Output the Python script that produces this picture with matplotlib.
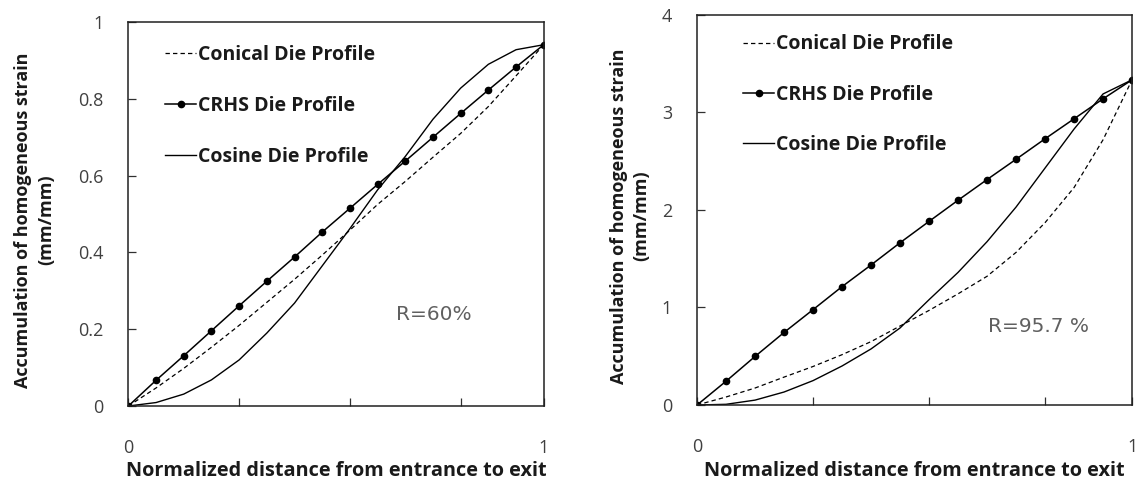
import numpy as np
import matplotlib
matplotlib.use("Agg")
import matplotlib.pyplot as plt

plt.rcParams["font.family"] = ["Open Sans", "DejaVu Sans"]

# normalized distance, 16 nodes (0 .. 1)
x = np.arange(16) / 15

# R = 60 %
conical_60 = [0, 0.047, 0.098, 0.153, 0.210, 0.270, 0.330, 0.393, 0.458, 0.525,
              0.585, 0.648, 0.710, 0.780, 0.860, 0.941]
crhs_60 = [0, 0.067, 0.131, 0.196, 0.261, 0.325, 0.388, 0.453, 0.515, 0.577,
           0.638, 0.700, 0.762, 0.823, 0.883, 0.941]
cosine_60 = [0, 0.009, 0.031, 0.068, 0.120, 0.190, 0.268, 0.365, 0.462, 0.563,
             0.650, 0.747, 0.828, 0.890, 0.928, 0.941]

# R = 95.7 %
conical_957 = [0, 0.082, 0.174, 0.286, 0.395, 0.516, 0.650, 0.810, 0.970, 1.140,
               1.320, 1.565, 1.870, 2.230, 2.720, 3.335]
crhs_957 = [0, 0.244, 0.498, 0.744, 0.978, 1.214, 1.436, 1.664, 1.883, 2.100,
            2.312, 2.520, 2.730, 2.935, 3.140, 3.335]
cosine_957 = [0, 0.007, 0.050, 0.133, 0.250, 0.400, 0.575, 0.790, 1.080, 1.360,
              1.675, 2.030, 2.430, 2.830, 3.190, 3.335]

labels = ["Conical Die Profile", "CRHS Die Profile", "Cosine Die Profile"]
xticks = [0, 4 / 15, 8 / 15, 12 / 15, 1]
xticklabels = ["0", "", "", "", "1"]

tick_col = "#404040"
text_col = "#1a1a1a"

fig = plt.figure(figsize=(11.39, 4.86), dpi=100)
ax1 = fig.add_axes([0.1127, 0.1646, 0.3647, 0.790])
ax2 = fig.add_axes([0.612, 0.1667, 0.3819, 0.8025])


def draw(ax, conical, crhs, cosine, ymax, yticks, ytl, rtext, rpos, lab_x, leg_anchor, leg_space):
    ax.plot(x, conical, color="black", lw=0.9, ls=(0, (3.5, 2.5)), label=labels[0])
    ax.plot(x, crhs, color="black", lw=1.1, marker="o", ms=4.5, label=labels[1])
    ax.plot(x, cosine, color="black", lw=1.0, label=labels[2])
    ax.set_xlim(0, 1)
    ax.set_ylim(0, ymax)
    ax.set_xticks(xticks)
    ax.set_xticklabels(xticklabels)
    ax.set_yticks(yticks)
    ax.set_yticklabels(ytl)
    ax.tick_params(direction="in", length=6, width=0.9, color="#303030",
                   labelsize=13, labelcolor=tick_col)
    ax.tick_params(axis="y", pad=18)
    ax.tick_params(axis="x", pad=24)
    for s in ax.spines.values():
        s.set_linewidth(1.1)
        s.set_color("#202020")
    ax.set_xlabel("Normalized distance from entrance to exit", fontsize=14.3,
                  fontweight="bold", color=text_col)
    ax.xaxis.set_label_coords(0.5, -0.143)
    ax.set_ylabel("Accumulation of homogeneous strain\n(mm/mm)", fontsize=13,
                  fontweight="bold", color=text_col, linespacing=1.35)
    ax.yaxis.set_label_coords(lab_x, 0.485)
    ax.text(rpos[0], rpos[1], rtext, fontsize=14.5, color="#606060",
            family=["DejaVu Sans"], ha="center", va="center")
    ax.legend(loc="upper left", bbox_to_anchor=leg_anchor, frameon=False,
              handlelength=1.6, handletextpad=0.1,
              labelspacing=leg_space, borderpad=0, borderaxespad=0,
              labelcolor=text_col, prop={"weight": "bold", "size": 14})


draw(ax1, conical_60, crhs_60, cosine_60, 1.0,
     [0, 0.2, 0.4, 0.6, 0.8, 1.0], ["0", "0.2", "0.4", "0.6", "0.8", "1"],
     "R=60%", (0.736, 0.238), -0.177, (0.089, 0.94), 1.58)
draw(ax2, conical_957, crhs_957, cosine_957, 4.0,
     [0, 1, 2, 3, 4], ["0", "1", "2", "3", "4"],
     "R=95.7 %", (0.786, 0.81), -0.107, (0.106, 0.95), 1.55)

fig.savefig("out.png", dpi=100)
